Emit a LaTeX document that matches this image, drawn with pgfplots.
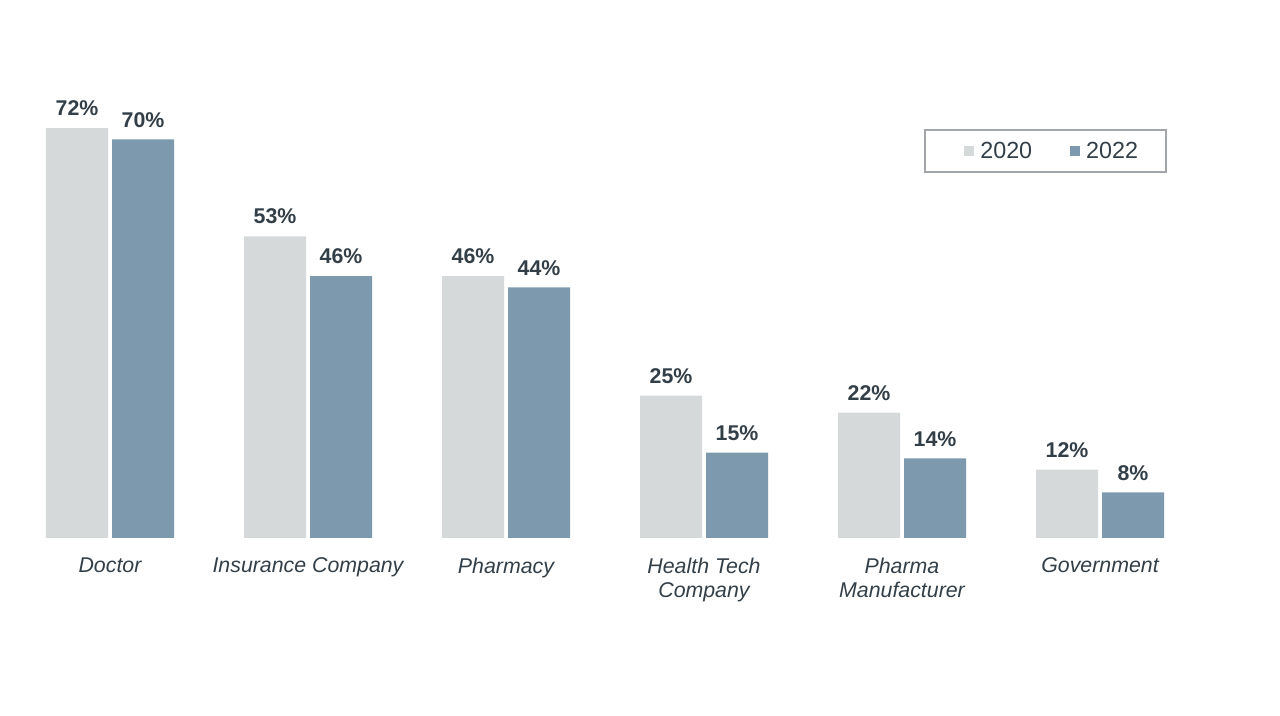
\documentclass[border=0pt]{standalone}
\usepackage{pgfplots}
\pgfplotsset{compat=1.18}
\usepackage{fontspec}
\setmainfont{Liberation Sans}
\definecolor{cA}{HTML}{D6D9DA}
\definecolor{cB}{HTML}{7D99AE}
\definecolor{txt}{HTML}{333F48}
\definecolor{lg}{HTML}{A2A6AA}
\begin{document}
\begin{tikzpicture}
\path[use as bounding box] (0,0) rectangle (960pt,537pt);
\begin{axis}[
  at={(8.25pt,133.5pt)}, anchor=south west,
  scale only axis, width=891pt, height=341.6pt,
  xmin=-0.5, xmax=5.5, ymin=0, ymax=80,
  axis line style={draw=none}, tick style={draw=none},
  ytick=\empty,
  xtick={0,1,2,3,4,5},
  xticklabels={Doctor,Insurance Company,Pharmacy,Health Tech\\Company,Pharma\\Manufacturer,Government},
  xticklabel style={font=\itshape\fontsize{16}{18}\selectfont, text=txt, align=center, yshift=-7pt},
  /pgf/number format/assume math mode=true,
  ybar=3pt, bar width=46.5pt,
  nodes near coords={\pgfmathprintnumber{\pgfplotspointmeta}\%},
  nodes near coords style={font=\bfseries\fontsize{16}{19}\selectfont, text=txt, yshift=5.5pt},
  legend columns=2,
  legend style={at={(0.7685,0.898)}, anchor=north west, draw=lg, line width=1.5pt,
    font=\fontsize{17.5}{20}\selectfont, text=txt, inner xsep=19pt, inner ysep=7pt,
    /tikz/every even column/.append style={column sep=16pt}},
]
\addplot[fill=cA, draw=none, legend image code/.code={\path (-10.5pt,0pt) (10pt,0pt);\fill[cA] (0pt,-3.75pt) rectangle (7.5pt,3.75pt);}]
  coordinates {(0,72) (1,53) (2,46) (3,25) (4,22) (5,12)};
\addplot[fill=cB, draw=none, legend image code/.code={\path (-10.5pt,0pt) (10pt,0pt);\fill[cB] (0pt,-3.75pt) rectangle (7.5pt,3.75pt);}]
  coordinates {(0,70) (1,46) (2,44) (3,15) (4,14) (5,8)};
\legend{2020,2022}
\end{axis}
\end{tikzpicture}
\end{document}
